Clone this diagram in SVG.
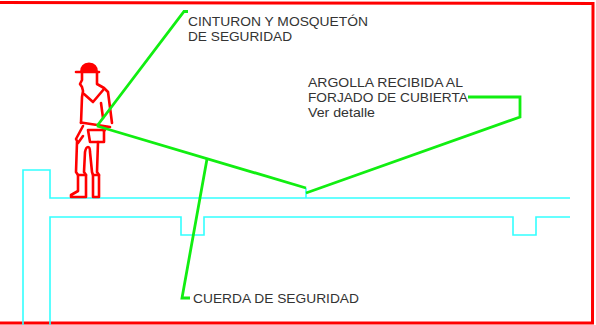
<svg xmlns="http://www.w3.org/2000/svg" width="596" height="325" viewBox="0 0 596 325">
  <style>
    .frame { fill: none; stroke: #ff0000; stroke-width: 3; }
    .slab { fill: none; stroke: #33ffff; stroke-width: 1.6; }
    .fig { fill: none; stroke: #ff0000; stroke-width: 2.6; stroke-linejoin: round; stroke-linecap: round; }
    .lead { fill: none; stroke: #11ee11; stroke-width: 2.8; stroke-linejoin: miter; }
    .lbl { font-family: "Liberation Sans", Arial, sans-serif; font-size: 13px; fill: #333333; }
  </style>

  <rect width="596" height="325" fill="#ffffff"/>

  <!-- sheet frame -->
  <path class="frame" d="M0,2.5 L593,3.5 L592.5,323 L0,323"/>

  <!-- roof slab with parapet and downstand beams -->
  <g id="slab">
    <path class="slab" d="M23,325 L23,170 L50,170 L50,198 L570,198"/>
    <path class="slab" d="M50,325 L50,217 L181,217 L181,235 L204,235 L204,217 L513,217 L513,235 L536,235 L536,217 L570,217"/>
    <!-- anchor ring stem -->
    <path class="slab" d="M306,188 L306,198"/>
  </g>

  <!-- worker with harness -->
  <g id="worker">
    <!-- helmet -->
    <path d="M80,72 Q80,63 89,62.5 Q98,63 98,72 Z" fill="#ff0000"/>
    <path class="fig" d="M76,72 L99,72"/>
    <!-- head and torso -->
    <path class="fig" d="M82,72 L82,80 L80,84 L82,87 L83,91 L82,97 L81,123"/>
    <path class="fig" d="M97,72 L97,84 L104,88 L108,92 L112,123"/>
    <path class="fig" d="M84,94 L93,102 L104,89"/>
    <path class="fig" d="M101,103 L103,118"/>
    <!-- belt -->
    <path class="fig" d="M81,122.5 L110,127" stroke-width="4"/>
    <!-- hanging arm and pouch -->
    <path class="fig" d="M83,126 L76,139 L78,143 L83,136"/>
    <path class="fig" d="M88,130 L104,130 L104,142 L90,142 L88,130"/>
    <path class="fig" d="M107,127 L104,131"/>
    <!-- legs and boots -->
    <path class="fig" d="M77,142 L76,172 L78,175 L78,191 L71,195 L71,197 L86,197 L86,175 L84,172 L85,152 Q86,147 88,147 Q90,147 90,152 L92,172 L93,175 L93,197 L99,197 L99,175 L97,172 L98,142"/>
    <path class="fig" d="M78,175 L86,175 M93,175 L99,175"/>
  </g>

  <!-- safety line and leader lines -->
  <g id="connectors">
    <path class="lead" d="M97,126 L306,188"/>
    <path class="lead" d="M97,126 L184,11.5 L188,11.5"/>
    <path class="lead" d="M306,193 L520,117 L520,97 L468,97"/>
    <path class="lead" d="M207,159 L182,298 L190,298"/>
  </g>

  <g id="label-harness">
    <text class="lbl" x="188" y="26" textLength="180" lengthAdjust="spacingAndGlyphs">CINTURON Y MOSQUETÓN</text>
    <text class="lbl" x="188" y="41" textLength="104" lengthAdjust="spacingAndGlyphs">DE SEGURIDAD</text>
  </g>
  <g id="label-anchor">
    <text class="lbl" x="308" y="87" textLength="155" lengthAdjust="spacingAndGlyphs">ARGOLLA RECIBIDA AL</text>
    <text class="lbl" x="308" y="102" textLength="160" lengthAdjust="spacingAndGlyphs">FORJADO DE CUBIERTA</text>
    <text class="lbl" x="308" y="117" textLength="67" lengthAdjust="spacingAndGlyphs">Ver detalle</text>
  </g>
  <g id="label-rope">
    <text class="lbl" x="193" y="303" textLength="166" lengthAdjust="spacingAndGlyphs">CUERDA DE SEGURIDAD</text>
  </g>
</svg>
